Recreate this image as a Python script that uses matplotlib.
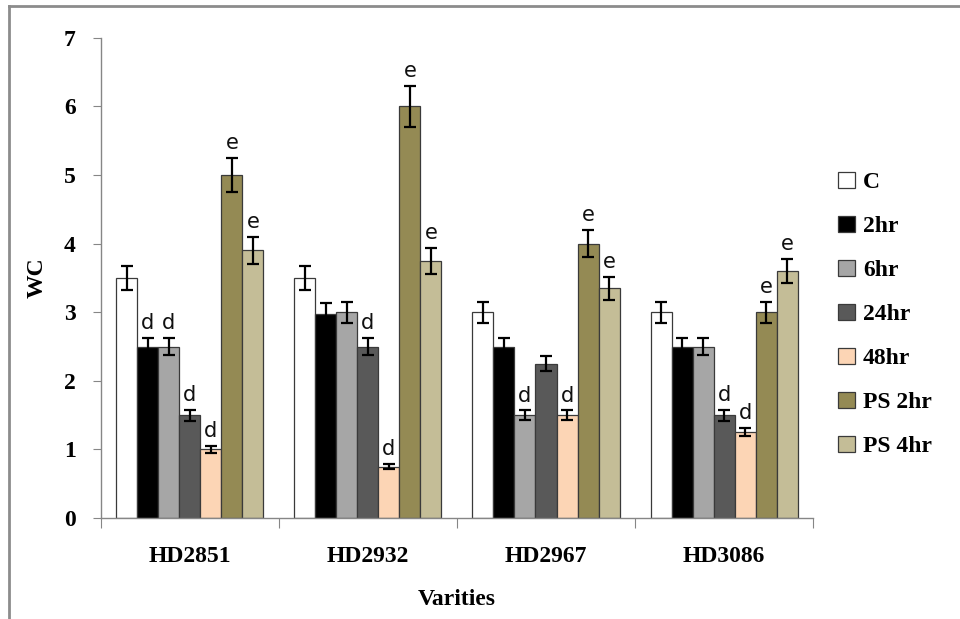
import numpy as np
import matplotlib
matplotlib.use("Agg")
import matplotlib.pyplot as plt
from matplotlib.lines import Line2D

varieties = ['HD2851', 'HD2932', 'HD2967', 'HD3086']
treatments = ['C', '2hr', '6hr', '24hr', '48hr', 'PS 2hr', 'PS 4hr']
colors = ['#ffffff', '#000000', '#a6a6a6', '#595959', '#fcd5b5', '#948a54', '#c4bd97']

# values per treatment, one entry per variety
wc_c = [3.5, 3.5, 3.0, 3.0]
wc_2hr = [2.5, 2.98, 2.5, 2.5]
wc_6hr = [2.5, 3.0, 1.5, 2.5]
wc_24hr = [1.5, 2.5, 2.25, 1.5]
wc_48hr = [1.0, 0.75, 1.5, 1.25]
wc_ps2 = [5.0, 6.0, 4.0, 3.0]
wc_ps4 = [3.9, 3.75, 3.35, 3.6]

err_c = [0.17, 0.17, 0.15, 0.15]
err_2hr = [0.13, 0.15, 0.13, 0.13]
err_6hr = [0.13, 0.15, 0.07, 0.13]
err_24hr = [0.08, 0.13, 0.11, 0.08]
err_48hr = [0.05, 0.04, 0.07, 0.06]
err_ps2 = [0.25, 0.3, 0.2, 0.15]
err_ps4 = [0.2, 0.19, 0.17, 0.18]

# significance letters above bars
let_c = ['', '', '', '']
let_2hr = ['d', '', '', '']
let_6hr = ['d', '', 'd', '']
let_24hr = ['d', 'd', '', 'd']
let_48hr = ['d', 'd', 'd', 'd']
let_ps2 = ['e', 'e', 'e', 'e']
let_ps4 = ['e', 'e', 'e', 'e']

values = [wc_c, wc_2hr, wc_6hr, wc_24hr, wc_48hr, wc_ps2, wc_ps4]
errors = [err_c, err_2hr, err_6hr, err_24hr, err_48hr, err_ps2, err_ps4]
letters = [let_c, let_2hr, let_6hr, let_24hr, let_48hr, let_ps2, let_ps4]

serif = ['Liberation Serif', 'DejaVu Serif']
fs = 17

fig = plt.figure(figsize=(9.6, 6.19), dpi=100)
ax = fig.add_axes([0.105, 0.163, 0.742, 0.776])

n = len(treatments)
w = 0.118
x0 = np.arange(len(varieties)) + 0.5
for i in range(n):
    xs = x0 + (i - (n - 1) / 2) * w
    ax.bar(xs, values[i], width=w, color=colors[i], edgecolor='#3a3a3a',
           linewidth=0.9, label=treatments[i], zorder=2)
    ax.errorbar(xs, values[i], yerr=errors[i], fmt='none', ecolor='black',
                elinewidth=1.6, capsize=4.3, capthick=1.6, zorder=3)
    for xx, v, e, t in zip(xs, values[i], errors[i], letters[i]):
        if t:
            ax.text(xx, v + e + 0.07, t, ha='center', va='bottom',
                    fontsize=15, family='DejaVu Sans', color='#111111')

ax.set_xlim(0, 4)
ax.set_ylim(0, 7)
ax.set_yticks(range(8))
ax.set_xticks(range(5))
ax.set_xticklabels([])
ax.set_xticks(x0, minor=True)
ax.set_xticklabels(varieties, minor=True)
ax.tick_params(axis='x', which='minor', length=0, pad=20)
ax.tick_params(axis='x', which='major', length=7, color='#868686', direction='out')
ax.tick_params(axis='y', length=6, color='#868686', direction='out', pad=12)
for lab in ax.get_xticklabels(minor=True) + ax.get_yticklabels():
    lab.set_family(serif)
    lab.set_fontweight('bold')
    lab.set_fontsize(fs)
for s in ['top', 'right']:
    ax.spines[s].set_visible(False)
for s in ['left', 'bottom']:
    ax.spines[s].set_color('#868686')
    ax.spines[s].set_linewidth(1)

ax.set_ylabel('WC', family=serif, fontweight='bold', fontsize=fs, labelpad=12)
ax.set_xlabel('Varities', family=serif, fontweight='bold', fontsize=fs, labelpad=16)

leg = ax.legend(loc='upper left', bbox_to_anchor=(1.012, 0.755), frameon=False,
                prop={'family': serif, 'weight': 'bold', 'size': fs},
                handlelength=0.7, handleheight=0.7, handletextpad=0.35,
                labelspacing=0.95, borderaxespad=0.3)

# outer frame lines (left and top)
fig.add_artist(Line2D([0.009, 0.009], [0.0, 0.991], transform=fig.transFigure,
                      color='#8c8c8c', linewidth=2))
fig.add_artist(Line2D([0.009, 1.0], [0.991, 0.991], transform=fig.transFigure,
                      color='#8c8c8c', linewidth=2))

fig.savefig('out.png', dpi=100)
